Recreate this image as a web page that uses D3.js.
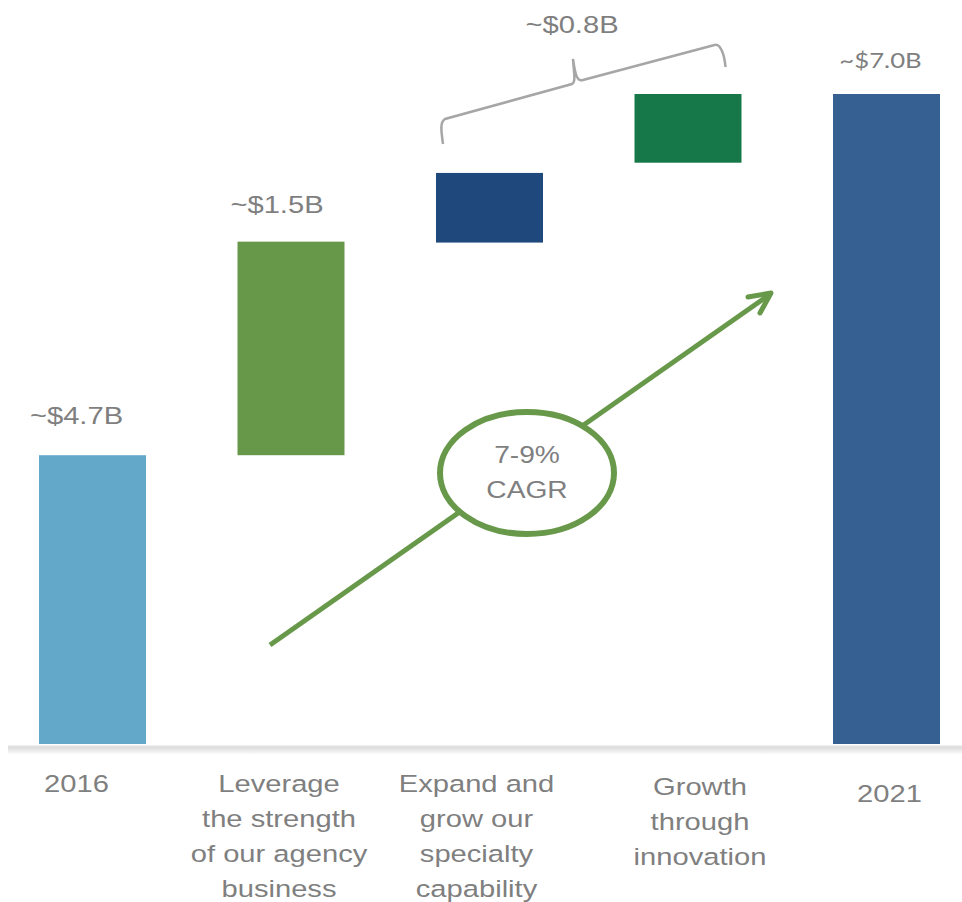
<!DOCTYPE html>
<html>
<head>
<meta charset="utf-8">
<script src="https://cdn.jsdelivr.net/npm/d3@7"></script>
<style>
  html, body { margin: 0; padding: 0; background: #ffffff; }
  svg { display: block; }
</style>
</head>
<body>
<svg id="chart" width="962" height="902"></svg>
<script>
// ---- data (bar extents; chart is not drawn to a strict scale) ----
const categories = ["2016", "Leverage", "Expand", "Growth", "2021"];
const categoryLabels = [
  ["2016"],
  ["Leverage", "the strength", "of our agency", "business"],
  ["Expand and", "grow our", "specialty", "capability"],
  ["Growth", "through", "innovation"],
  ["2021"]
];
const barBase = [0, 3.11, 5.40, 6.26, 0];
const barTop  = [3.11, 5.41, 6.15, 7.00, 7.00];
const valueLabels = ["~$4.7B", "~$1.5B", null, null, "~$7.0B"];
const bracketLabel = "~$0.8B";
const cagrLabel = ["7-9%", "CAGR"];
const barColors = ["#63a8c8", "#67984a", "#1f497d", "#167848", "#376092"];

// ---- layout ----
const svg = d3.select("#chart");
const x = d3.scaleBand().domain(categories).range([39, 940]).paddingInner(0.461).paddingOuter(0);
const y = d3.scaleLinear().domain([0, 7]).range([744, 94]);

const grey = "#7f7f7f";
const font = "'Liberation Sans', Arial, sans-serif";
const SX = 1.19; // horizontal stretch of the original slide text

// helper: stretched multi-line text centred on cx
function stretchedText(cx, y0, lines, opts = {}) {
  const g = svg.append("g").attr("transform", `translate(${cx},0) scale(${opts.sx || SX},1)`);
  const t = g.append("text")
    .attr("text-anchor", "middle")
    .attr("fill", grey)
    .attr("font-family", opts.family || font)
    .attr("font-size", opts.size || 24.5);
  lines.forEach((l, j) => t.append("tspan").attr("x", 0).attr("y", y0 + j * (opts.lh || 35)).text(l));
  return t;
}

// baseline with soft shadow
const defs = svg.append("defs");
const lg = defs.append("linearGradient").attr("id", "base").attr("x1", 0).attr("x2", 0).attr("y1", 0).attr("y2", 1);
lg.append("stop").attr("offset", "0%").attr("stop-color", "#f2f2f2");
lg.append("stop").attr("offset", "25%").attr("stop-color", "#dcdcdc");
lg.append("stop").attr("offset", "100%").attr("stop-color", "#fbfbfb");
svg.append("rect").attr("x", 8).attr("y", 745).attr("width", 954).attr("height", 9).attr("fill", "url(#base)");

// bars
svg.append("g").selectAll("rect").data(categories).join("rect")
  .attr("x", d => x(d))
  .attr("width", x.bandwidth())
  .attr("y", (d, i) => y(barTop[i]))
  .attr("height", (d, i) => y(barBase[i]) - y(barTop[i]))
  .attr("fill", (d, i) => barColors[i]);

// value labels
const valDx = [-16, -14, 0, 0, -6];
const valDy = [-31, -29, 0, 0, -26];
categories.forEach((c, i) => {
  if (!valueLabels[i]) return;
  const is21 = c === "2021";
  stretchedText(x(c) + x.bandwidth() / 2 + valDx[i], y(barTop[i]) + valDy[i], [valueLabels[i]],
    is21 ? { family: "Lato, 'Open Sans', sans-serif", size: 22, sx: 1.17 } : {});
});

// category labels
const catDx = [-16, -12, -13, 12, 3];
const catY0 = [792, 792, 792, 795, 802];
categories.forEach((c, i) => {
  stretchedText(x(c) + x.bandwidth() / 2 + catDx[i], catY0[i], categoryLabels[i]);
});

// bracket over the specialty / innovation bars
const bx0 = x("Expand"), bx1 = x("Growth") + x.bandwidth();
svg.append("path")
  .attr("d", `M${bx0 + 7},144 C${bx0 + 5},130 ${bx0 + 4},122 ${bx0 + 9},119 L${bx0 + 136},84 C${bx0 + 140},82 ${bx0 + 138},74 ${bx0 + 137},59 C${bx0 + 139},74 ${bx0 + 141},82 ${bx0 + 147},80 L${bx1 - 27},45 C${bx1 - 21},43 ${bx1 - 17},55 ${bx1 - 16},67`)
  .attr("fill", "none").attr("stroke", "#a6a6a6").attr("stroke-width", 2.5);
stretchedText(572, 33, [bracketLabel]);

// growth arrow
const green = "#68994a";
svg.append("line").attr("x1", 270).attr("y1", 645).attr("x2", 769).attr("y2", 295)
  .attr("stroke", green).attr("stroke-width", 5);
svg.append("path").attr("d", "M748,297 L771,293 L760,313")
  .attr("fill", "none").attr("stroke", green).attr("stroke-width", 5)
  .attr("stroke-linecap", "round").attr("stroke-linejoin", "round");

// CAGR ellipse
svg.append("ellipse").attr("cx", 527).attr("cy", 473).attr("rx", 87).attr("ry", 61)
  .attr("fill", "#ffffff").attr("stroke", green).attr("stroke-width", 6);
stretchedText(527, 463, cagrLabel, { sx: 1.15 });
</script>
</body>
</html>
